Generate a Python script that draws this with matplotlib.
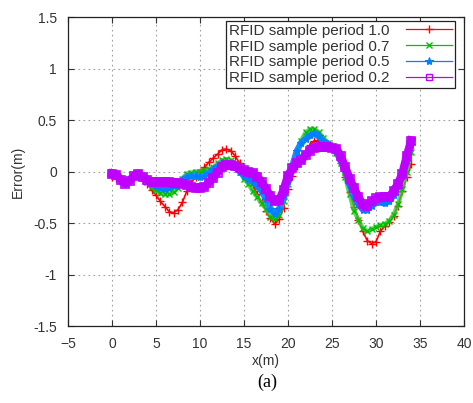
import numpy as np
import matplotlib
matplotlib.use("Agg")
import matplotlib.pyplot as plt

# sample positions along the path (m)
xpos = [0, 0.5, 1, 1.5, 2, 2.5, 3, 3.5, 4, 4.5, 5, 5.5, 6, 6.5, 7, 7.5, 8, 8.5, 9, 9.5,
        10, 10.5, 11, 11.5, 12, 12.5, 13, 13.5, 14, 14.5, 15, 15.5, 16, 16.5, 17, 17.5,
        18, 18.5, 19, 19.5, 20, 20.5, 21, 21.5, 22, 22.5, 23, 23.5, 24, 24.5, 25, 25.5,
        26, 26.5, 27, 27.5, 28, 28.5, 29, 29.5, 30, 30.5, 31, 31.5, 32, 32.5, 33, 33.5, 34]

err_10 = [-0.05, -0.06, -0.09, -0.11, -0.08, -0.05, -0.04, -0.07, -0.12, -0.18,
          -0.23, -0.29, -0.34, -0.39, -0.40, -0.37, -0.30, -0.19, -0.11, -0.05,
          0.00, 0.04, 0.09, 0.13, 0.17, 0.21, 0.22, 0.20, 0.15, 0.08,
          0.00, -0.06, -0.13, -0.22, -0.30, -0.38, -0.45, -0.51, -0.46, -0.35,
          -0.17, -0.04, 0.05, 0.13, 0.20, 0.26, 0.30, 0.30, 0.28, 0.27,
          0.24, 0.18, 0.08, -0.05, -0.20, -0.34, -0.47, -0.58, -0.67, -0.70,
          -0.68, -0.58, -0.53, -0.49, -0.43, -0.33, -0.19, -0.05, 0.07]

err_07 = [-0.01, -0.03, -0.08, -0.11, -0.08, -0.04, -0.03, -0.06, -0.10, -0.15,
          -0.18, -0.21, -0.22, -0.22, -0.20, -0.16, -0.07, -0.02, -0.01, 0.00,
          0.00, 0.01, 0.02, 0.04, 0.08, 0.11, 0.12, 0.11, 0.07, 0.00,
          -0.07, -0.12, -0.19, -0.25, -0.31, -0.36, -0.44, -0.46, -0.42, -0.29,
          -0.12, 0.04, 0.19, 0.30, 0.38, 0.41, 0.41, 0.38, 0.33, 0.28,
          0.23, 0.18, 0.08, -0.05, -0.22, -0.38, -0.47, -0.55, -0.58, -0.56,
          -0.54, -0.52, -0.51, -0.48, -0.42, -0.32, -0.17, 0.00, 0.19]

err_05 = [-0.01, -0.04, -0.09, -0.11, -0.08, -0.04, -0.03, -0.06, -0.09, -0.12,
          -0.14, -0.16, -0.17, -0.16, -0.14, -0.12, -0.08, -0.05, -0.04, -0.04,
          -0.05, -0.04, -0.01, 0.02, 0.05, 0.08, 0.08, 0.07, 0.04, 0.00,
          -0.04, -0.07, -0.10, -0.14, -0.19, -0.27, -0.36, -0.41, -0.36, -0.24,
          -0.09, 0.06, 0.20, 0.28, 0.32, 0.35, 0.37, 0.34, 0.30, 0.27,
          0.23, 0.19, 0.10, 0.01, -0.13, -0.24, -0.32, -0.37, -0.37, -0.33,
          -0.30, -0.30, -0.31, -0.29, -0.23, -0.14, -0.04, 0.10, 0.26]

err_02 = [-0.02, -0.03, -0.08, -0.12, -0.09, -0.04, -0.02, -0.05, -0.08, -0.10,
          -0.10, -0.10, -0.10, -0.10, -0.11, -0.11, -0.12, -0.13, -0.15, -0.16,
          -0.16, -0.15, -0.11, -0.06, -0.01, 0.04, 0.06, 0.06, 0.05, 0.03,
          0.01, 0.00, -0.01, -0.05, -0.10, -0.17, -0.24, -0.29, -0.28, -0.18,
          -0.04, 0.03, 0.08, 0.11, 0.16, 0.20, 0.23, 0.235, 0.235, 0.235,
          0.23, 0.22, 0.15, 0.04, -0.07, -0.16, -0.25, -0.32, -0.33, -0.29,
          -0.26, -0.25, -0.25, -0.25, -0.19, -0.12, -0.02, 0.15, 0.30]

labels = ["RFID sample period 1.0", "RFID sample period 0.7",
          "RFID sample period 0.5", "RFID sample period 0.2"]

plt.rcParams['font.family'] = ['Liberation Sans', 'DejaVu Sans']
plt.rcParams['font.size'] = 10

fig = plt.figure(figsize=(4.73, 4.03), dpi=100)
ax = fig.add_axes([0.1438, 0.191, 0.8372, 0.7668])

# dense samples in the original: a thick band under the markers
ax.plot(xpos, err_10, color="#ff0000", lw=1.2)
ax.plot(xpos, err_10, color="#ff0000", lw=0.8, ls='none', marker='+', ms=6, mew=1.0)
ax.plot(xpos, err_07, color="#33cc33", lw=3.2, alpha=0.8)
ax.plot(xpos, err_07, color="#00c000", lw=0.8, ls='none', marker='x', ms=4.5, mew=1.0)
ax.plot(xpos, err_05, color="#1a8cff", lw=4.5)
ax.plot(xpos, err_05, color="#0080ff", lw=0.8, ls='none', marker='*', ms=6, mew=0.8)
ax.plot(xpos, err_02, color="#c000ff", lw=6)
ax.plot(xpos, err_02, color="#c000ff", lw=0.8, ls='none', marker='s', ms=5.5, mew=1.2, mfc='none')

# legend entries (gnuplot style: sample line with one marker)
h1, = ax.plot([], [], color="#ff0000", lw=0.9, marker='+', ms=6, mew=1.0, label=labels[0])
h2, = ax.plot([], [], color="#00c000", lw=0.9, marker='x', ms=4.5, mew=1.0, label=labels[1])
h3, = ax.plot([], [], color="#0080ff", lw=0.9, marker='*', ms=6, mew=0.8, label=labels[2])
h4, = ax.plot([], [], color="#c000ff", lw=0.9, marker='s', ms=5, mew=1.0, mfc='none', label=labels[3])

ax.set_xlim(-5, 40)
ax.set_ylim(-1.5, 1.5)
ax.set_xticks(np.arange(-5, 41, 5))
ax.set_yticks([-1.5, -1, -0.5, 0, 0.5, 1, 1.5])
ax.set_yticklabels(["-1.5", "-1", "-0.5", "0", "0.5", "1", "1.5"])
ax.grid(True, ls=(0, (1.5, 3)), color='#a0a0a0', lw=0.8)
ax.set_axisbelow(True)
ax.tick_params(direction='in', top=True, right=True, length=4, colors='#333333',
               labelcolor='#333333', labelsize=10, pad=8)
for s in ax.spines.values():
  s.set_color('#222222')
  s.set_linewidth(0.9)

ax.set_xlabel("x(m)", color='#333333', labelpad=2)
ax.set_ylabel("Error(m)", color='#333333', labelpad=6)

leg = ax.legend(handles=[h1, h2, h3, h4], loc='upper right', bbox_to_anchor=(0.977, 0.988),
                markerfirst=False, fancybox=False, framealpha=1, edgecolor='#222222',
                fontsize=11, handlelength=3.0, handletextpad=1.1, labelspacing=0.12,
                borderpad=0.2, borderaxespad=0)
leg.get_frame().set_linewidth(0.9)
for t in leg.get_texts():
  t.set_color('#333333')

fig.text(0.565, 0.052, "(a)", family='Liberation Serif', fontsize=13, ha='center', va='center')

fig.savefig("out.png", dpi=100)
